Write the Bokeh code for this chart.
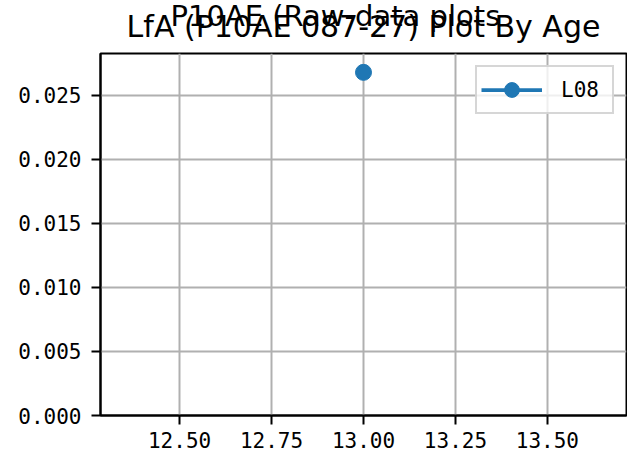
from bokeh.plotting import figure
from bokeh.models import Range1d, FixedTicker, Title, Legend, LegendItem, NumeralTickFormatter, ColumnDataSource
from bokeh.embed import file_html
from bokeh.resources import INLINE

# ---- data ----
ages = [13.0]
values = [0.0268]
series_label = "L08"
x_ticks = [12.5, 12.75, 13.0, 13.25, 13.5]
y_ticks = [0.000, 0.005, 0.010, 0.015, 0.020, 0.025]
title_top = "P10AE (Raw-data plots"
title_main = "LfA (P10AE 087-27) Plot By Age"

# matplotlib-like autoscale for a single point
x0 = ages[0]
xlo, xhi = x0 - 0.05 * abs(x0), x0 + 0.05 * abs(x0)
xm = 0.05 * (xhi - xlo)
y0 = values[0]
ylo_s, yhi_s = y0 - 0.05 * abs(y0), y0 + 0.05 * abs(y0)
ym = 0.05 * (yhi_s - ylo_s)
x_start, x_end = xlo - xm, xhi + xm
y_start, y_end = 0.0, yhi_s + ym

TICK_FONT = "DejaVu Sans Mono"
TITLE_FONT = "DejaVu Sans"
BLUE = "#1f77b4"

p = figure(width=627, height=460, output_backend="svg", toolbar_location=None,
           x_range=Range1d(x_start, x_end), y_range=Range1d(y_start, y_end),
           min_border_left=100, min_border_right=1, min_border_top=53, min_border_bottom=45)
p.background_fill_color = "white"
p.border_fill_color = "white"
p.outline_line_color = "black"
p.outline_line_width = 2

# outer (upper) title line
p.title.text = title_top
p.title.align = "left"
p.title.offset = 70
p.title.vertical_align = "bottom"
p.title.standoff = -64
p.title.text_font = TITLE_FONT
p.title.text_font_size = "29px"
p.title.text_font_style = "normal"
p.title.text_color = "black"

# inner (lower) title line, overlapping the upper one
p.add_layout(Title(text=title_main, align="center", vertical_align="top", standoff=16,
                   text_font=TITLE_FONT, text_font_size="30px", text_font_style="normal",
                   text_color="black"), "above")

src = ColumnDataSource(dict(x=ages, y=values))
lr = p.line("x", "y", source=src, line_color=BLUE, line_width=3.75)
sr = p.scatter("x", "y", source=src, size=16, fill_color=BLUE, line_color=BLUE)

for ax in (p.xaxis[0], p.yaxis[0]):
    ax.axis_line_color = "black"
    ax.axis_line_width = 2
    ax.major_tick_line_color = "black"
    ax.major_tick_line_width = 2
    ax.major_tick_out = 9
    ax.major_tick_in = 0
    ax.minor_tick_out = 0
    ax.minor_tick_in = 0
    ax.major_label_text_font = TICK_FONT
    ax.major_label_text_font_size = "21px"
    ax.major_label_text_color = "black"

p.xaxis.ticker = FixedTicker(ticks=x_ticks)
p.yaxis.ticker = FixedTicker(ticks=y_ticks)
p.xaxis.formatter = NumeralTickFormatter(format="0.00")
p.yaxis.formatter = NumeralTickFormatter(format="0.000")
p.xaxis.major_label_standoff = 7
p.yaxis.major_label_standoff = 10

p.xgrid.grid_line_color = "#b0b0b0"
p.ygrid.grid_line_color = "#b0b0b0"
p.xgrid.grid_line_width = 2
p.ygrid.grid_line_width = 2

legend = Legend(items=[LegendItem(label=series_label, renderers=[lr, sr])],
                location="top_right", margin=12, padding=4, spacing=0,
                glyph_width=61, glyph_height=37, label_standoff=19, label_width=47,
                label_text_font=TICK_FONT, label_text_font_size="21px",
                label_text_color="black",
                border_line_color="#cccccc", border_line_width=2, border_line_alpha=0.8,
                background_fill_alpha=0.8)
p.add_layout(legend, "center")

open("out.html", "w").write(file_html(p, INLINE))
